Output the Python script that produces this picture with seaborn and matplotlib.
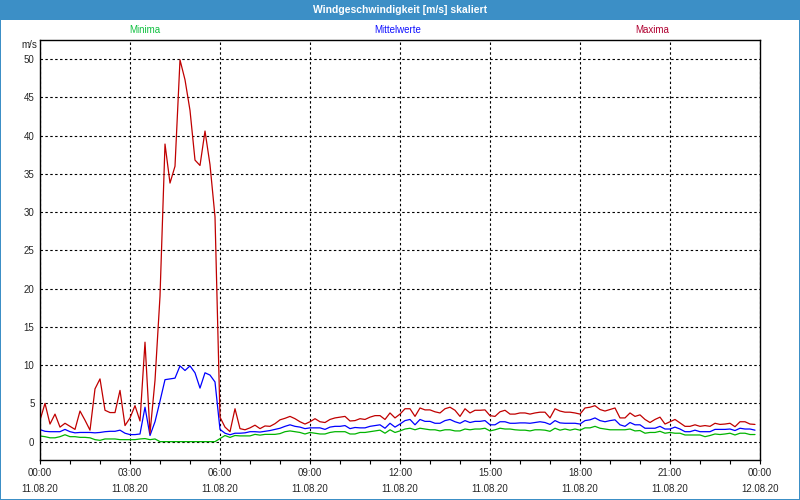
import numpy as np
import pandas as pd
import matplotlib
matplotlib.use("Agg")
import matplotlib.pyplot as plt
import seaborn as sns
from matplotlib.patches import Rectangle
from matplotlib.ticker import MultipleLocator

# ---------------- data ----------------
title = "Windgeschwindigkeit [m/s] skaliert"
unit_label = "m/s"
series_names = ["Minima", "Mittelwerte", "Maxima"]
sample_minutes = 10

minima = [0.74, 0.65, 0.5, 0.5, 0.65, 0.9, 0.65, 0.65, 0.56, 0.56, 0.5, 0.26, 0.17, 0.35, 0.35, 0.35, 0.26, 0.26, 0.26, 0.26, 0.35, 0.4, 0.26, 0.35,
          0, 0, 0, 0, 0, 0, 0, 0, 0, 0, 0, 0,
          0.4, 0.8, 0.55, 0.8, 0.75, 0.75, 0.75, 0.95, 0.85, 0.95, 0.95, 0.95,
          1.05, 1.3, 1.4, 1.3, 1.2, 1.0, 1.2, 1.1, 1.0, 1.0, 1.2, 1.3, 1.3, 1.3, 1.0, 1.0, 1.2, 1.2, 1.3, 1.4, 1.5, 1.1, 1.55, 1.2,
          1.4, 1.65, 1.75, 1.55, 1.75, 1.65, 1.55, 1.55, 1.4, 1.55, 1.55, 1.4, 1.4, 1.65, 1.55, 1.65, 1.65, 1.75, 1.4, 1.55, 1.75, 1.65, 1.65, 1.55,
          1.5, 1.5, 1.4, 1.55, 1.55, 1.5, 1.35, 1.75, 1.5, 1.65, 1.5, 1.65, 1.5, 1.8, 1.8, 2.0, 1.75, 1.65, 1.55, 1.55, 1.55, 1.55, 1.65, 1.4,
          1.45, 1.1, 1.2, 1.2, 1.35, 1.1, 1.2, 1.1, 1.1, 0.87, 0.87, 0.87, 0.87, 0.65, 0.8, 1.0, 0.93, 1.0, 1.1, 0.87, 1.1, 1.1, 0.93, 0.93]

mittelwerte = [1.57, 1.35, 1.3, 1.3, 1.3, 1.6, 1.3, 1.15, 1.2, 1.2, 1.2, 1.15, 1.2, 1.3, 1.35, 1.35, 1.5, 1.1, 0.92, 0.92, 1.0, 4.5, 0.8, 2.6,
               5.3, 8.1, 8.2, 8.3, 9.9, 9.3, 9.9, 9.0, 7.0, 9.0, 8.7, 7.8,
               1.6, 1.1, 0.9, 1.1, 1.1, 1.15, 1.3, 1.3, 1.25, 1.35, 1.45, 1.6,
               1.75, 2.0, 2.2, 2.0, 1.9, 1.7, 1.8, 1.8, 1.8, 1.6, 1.9, 2.0, 2.0, 2.1, 1.7, 1.85, 1.8, 1.8, 2.0, 2.1, 2.2, 1.75, 2.4, 1.9,
               2.3, 2.75, 2.9, 2.2, 2.9, 2.65, 2.65, 2.4, 2.4, 2.75, 2.9, 2.6, 2.4, 2.75, 2.5, 2.65, 2.65, 2.75, 2.2, 2.2, 2.6, 2.6, 2.4, 2.4,
               2.45, 2.45, 2.4, 2.5, 2.6, 2.5, 2.25, 2.75, 2.45, 2.4, 2.4, 2.4, 2.3, 2.75, 2.85, 3.1, 2.75, 2.6, 2.75, 2.85, 2.2, 2.0, 2.5, 2.2,
               2.2, 1.75, 1.75, 1.75, 2.0, 1.65, 1.65, 1.9, 1.65, 1.3, 1.3, 1.5, 1.3, 1.3, 1.3, 1.6, 1.6, 1.6, 1.65, 1.45, 1.75, 1.65, 1.65, 1.5]

maxima = [2.8, 5.0, 2.3, 3.6, 1.9, 2.4, 2.0, 1.6, 4.0, 2.8, 1.5, 6.9, 8.2, 4.1, 3.8, 3.8, 6.7, 2.1, 3.1, 4.7, 2.7, 13.0, 1.1, 8.0,
          19.0, 38.9, 33.8, 36.0, 49.9, 47.3, 43.3, 36.8, 36.1, 40.6, 36.2, 29.4,
          3.2, 1.9, 1.3, 4.3, 1.7, 1.55, 1.8, 2.15, 1.7, 2.05, 2.0, 2.35,
          2.85, 3.05, 3.3, 3.0, 2.6, 2.3, 2.6, 3.0, 2.6, 2.5, 2.9, 3.1, 3.2, 3.3, 2.7, 2.75, 3.0, 2.9, 3.2, 3.4, 3.4, 2.9, 3.75, 3.1,
          3.6, 4.3, 4.3, 3.3, 4.4, 4.15, 4.15, 3.9, 3.75, 4.3, 4.5, 4.1, 3.3, 4.3, 3.75, 4.1, 4.1, 4.15, 3.4, 3.3, 3.9, 4.1, 3.6, 3.6,
          3.75, 3.75, 3.6, 3.75, 3.85, 3.85, 3.1, 4.3, 4.0, 3.85, 3.85, 3.75, 3.6, 4.4, 4.5, 4.7, 4.2, 4.0, 4.2, 4.4, 3.1, 3.1, 3.75, 3.3,
          3.5, 2.9, 2.5, 2.9, 3.2, 2.3, 2.6, 2.9, 2.45, 2.0, 2.0, 2.2, 2.0, 2.1, 2.0, 2.4, 2.25, 2.3, 2.4, 1.95, 2.6, 2.6, 2.3, 2.25]

tick_times = ["00:00", "03:00", "06:00", "09:00", "12:00", "15:00", "18:00", "21:00", "00:00"]
tick_dates = ["11.08.20"] * 8 + ["12.08.20"]
y_ticks = [0, 5, 10, 15, 20, 25, 30, 35, 40, 45, 50]

# ---------------- styling ----------------
line_colors = {"Minima": "#00b400", "Mittelwerte": "#0000ff", "Maxima": "#c00000"}
label_colors = {"Minima": "#10c040", "Mittelwerte": "#1010ff", "Maxima": "#b00030"}
bar_color = "#3c8fc6"

hours = np.arange(len(maxima)) * sample_minutes / 60.0
df = pd.DataFrame({
    "Stunde": np.concatenate([hours, hours, hours]),
    "Wert": minima + mittelwerte + maxima,
    "Reihe": np.repeat(series_names, len(hours)),
})

sns.set_style("white")
plt.rcParams["font.family"] = ["Liberation Sans", "DejaVu Sans"]

W, H = 800, 500
fig = plt.figure(figsize=(8, 5), dpi=100)
fig.patch.set_facecolor("white")
ax = fig.add_axes([40 / W, 1 - 460 / H, 720 / W, 420 / H])

sns.lineplot(data=df, x="Stunde", y="Wert", hue="Reihe", hue_order=series_names,
             palette=line_colors, ax=ax, legend=False, linewidth=0.9, errorbar=None)

ax.set_xlim(0, 24)
ax.set_ylim(-2.4, 52.5)
ax.set_xlabel("")
ax.set_ylabel("")

ax.set_xticks(np.arange(0, 24.1, 3))
ax.set_xticklabels([f"{t}\n{d}" for t, d in zip(tick_times, tick_dates)],
                   fontsize=7, linespacing=1.75)
ax.xaxis.set_minor_locator(MultipleLocator(1))
ax.set_yticks(y_ticks)
ax.set_yticklabels([str(v) for v in y_ticks], fontsize=7)

ax.tick_params(axis="x", which="both", direction="out", length=3, width=0.8,
               color="black", pad=3, bottom=True)
ax.tick_params(axis="y", length=0, pad=4)

ax.grid(True, which="major", color="black", linestyle=(0, (2.2, 2.2)), linewidth=0.8)
ax.set_axisbelow(True)
for s in ax.spines.values():
    s.set_visible(True)
    s.set_color("black")
    s.set_linewidth(1.0)

# title bar and window border
fig.patches.append(Rectangle((0, 1 - 20 / H), 1, 20 / H, transform=fig.transFigure,
                             facecolor=bar_color, edgecolor="none", zorder=0))
for rect in [(0, 0, 1.2 / W, 1), (1 - 1.2 / W, 0, 1.2 / W, 1), (0, 0, 1, 1.2 / H)]:
    fig.patches.append(Rectangle(rect[:2], rect[2], rect[3], transform=fig.transFigure,
                                 facecolor=bar_color, edgecolor="none", zorder=0))
fig.text(0.5, 1 - 10 / H, title, color="white", fontsize=7.5, fontweight="bold",
         ha="center", va="center")

# series labels
label_x = {"Minima": 145, "Mittelwerte": 398, "Maxima": 652}
for name in series_names:
    fig.text(label_x[name] / W, 1 - 30 / H, name, color=label_colors[name],
             fontsize=7, ha="center", va="center")

fig.text(37 / W, 1 - 45 / H, unit_label, fontsize=7, ha="right", va="center")

fig.savefig("out.png", dpi=100)
